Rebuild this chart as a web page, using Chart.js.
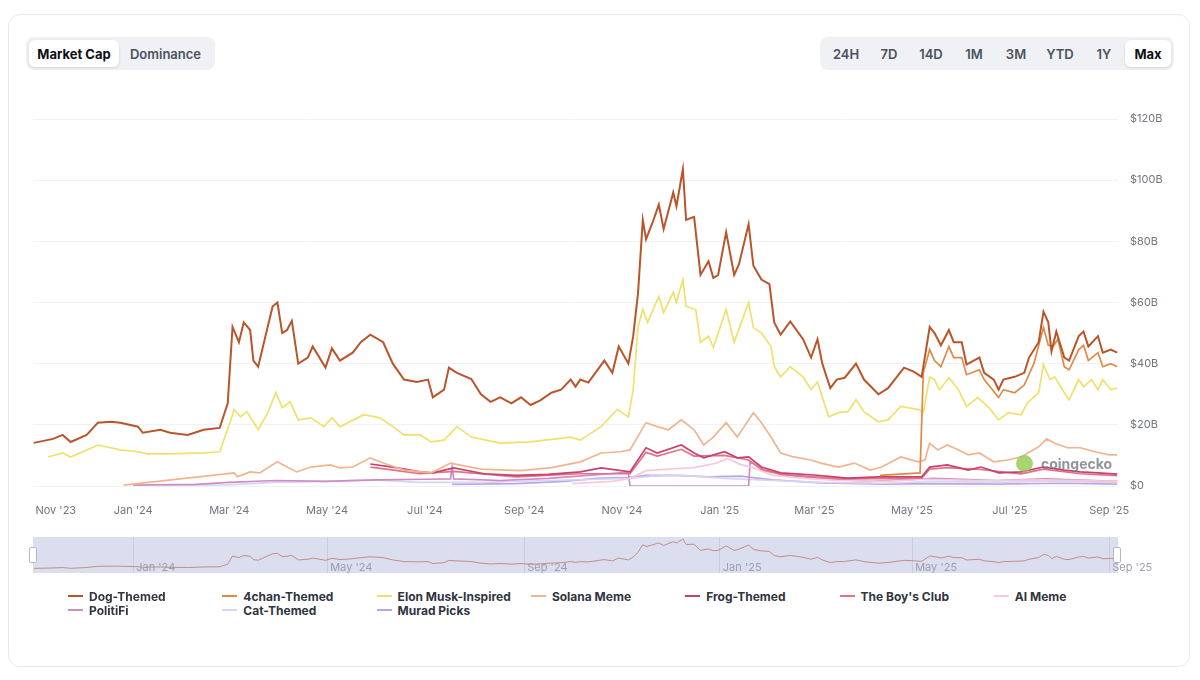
<!DOCTYPE html>
<html>
<head>
<meta charset="utf-8">
<script src="https://cdn.jsdelivr.net/npm/chart.js@4.4.1/dist/chart.umd.min.js"></script>
<style>
  body { margin: 0; background: #fff; font-family: Inter, 'Noto Sans', sans-serif; }
  #page { position: relative; width: 1200px; height: 680px; overflow: hidden; }
  .card { position: absolute; left: 8px; top: 14px; width: 1180px; height: 651px; border: 1px solid #e7e9ee; border-radius: 12px; }
  .seg { position: absolute; top: 37px; height: 33px; background: #eff1f5; border-radius: 8px; display: flex; padding: 3px; box-sizing: border-box; }
  .seg div { display: flex; align-items: center; justify-content: center; font-size: 13px; font-weight: 600; color: #4b5260; border-radius: 6px; }
  .seg div.on { background: #fff; color: #0d0f14; font-weight: 700; box-shadow: 0 1px 3px rgba(0,0,0,.12); }
  #mainWrap { position: absolute; left: 20px; top: 100px; width: 1160px; height: 416px; }
  #navBg { position: absolute; left: 33px; top: 537px; width: 1085px; height: 36px; background: #dadeee; }
  #navWrap { position: absolute; left: 33px; top: 537px; width: 1130px; height: 36px; }
  .handle { position: absolute; top: 547px; width: 6px; height: 14px; background: #fff; border: 1px solid #b5b8c4; border-radius: 2px; }
  #legend { position: absolute; left: 0; top: 0; }
  .li { position: absolute; display: flex; align-items: center; height: 14px; font-size: 12px; font-weight: 700; color: #30353f; white-space: nowrap; }
  .li span.ln { display: inline-block; width: 15px; height: 2px; margin-right: 6px; }
  #mark { position: absolute; left: 1016px; top: 455px; display: flex; align-items: center; opacity: .8; }
  #mark .dot { width: 17px; height: 17px; border-radius: 50%; background: #93cb4f; margin-right: 8px; }
  #mark span { font-size: 14px; font-weight: 700; color: #757a83; }
</style>
</head>
<body>
<div id="page">
  <div class="card"></div>
  <div class="seg" style="left:26px;">
    <div class="on" style="width:90px;">Market Cap</div>
    <div style="width:93px;">Dominance</div>
  </div>
  <div class="seg" style="left:820px;">
    <div style="width:46px;">24H</div>
    <div style="width:40px;">7D</div>
    <div style="width:44px;">14D</div>
    <div style="width:42px;">1M</div>
    <div style="width:42px;">3M</div>
    <div style="width:46px;">YTD</div>
    <div style="width:42px;">1Y</div>
    <div class="on" style="width:46px;">Max</div>
  </div>
  <div id="mainWrap"><canvas id="mainChart"></canvas></div>
  <div id="mark"><div class="dot"></div><span>coingecko</span></div>
  <div id="navBg"></div>
  <div id="navWrap"><canvas id="navChart"></canvas></div>
  <div class="handle" style="left:29px;"></div>
  <div class="handle" style="left:1113px;"></div>
  <div id="legend"></div>
</div>
<script>
// day offsets from 2023-11-01, values in $B
const axisTickDays = [0, 61, 121, 182, 243, 305, 366, 427, 486, 547, 608, 670];
const axisTickLabels = ["Nov '23", "Jan '24", "Mar '24", "May '24", "Jul '24", "Sep '24", "Nov '24", "Jan '25", "Mar '25", "May '25", "Jul '25", "Sep '25"];
const navTickDays = [61, 182, 305, 427, 547, 670];
const navTickLabels = ["Jan '24", "May '24", "Sep '24", "Jan '25", "May '25", "Sep '25"];

const dogThemed = [[-1,14.1],[11,15.4],[17,16.7],[22,14.4],[32,16.7],[39,20.7],[47,21],[53,20.7],[64,19.4],[67,17.4],[78,18.4],[84,17.4],[95,16.7],[105,18.4],[115,19],[120,27],[123,52],[127,47],[130,53.5],[134,51],[136,41],[139,39],[142,45.6],[148,58.7],[151,60],[154,50],[157,51],[160,54],[164,40],[170,42],[173,45.6],[181,38.7],[185,45],[190,41],[198,43.6],[203,47],[209,49.5],[217,47],[223,40],[230,34.8],[238,34],[245,34.8],[248,29],[255,31.5],[258,38.7],[263,37],[272,35],[278,30],[284,27.5],[290,29],[297,27],[303,29],[309,26.5],[315,28],[322,30.5],[328,31.5],[334,34.8],[337,32.5],[340,34.8],[345,33.8],[355,41],[360,37],[364,45.6],[370,40],[373,49],[376,63],[379,87],[381,80.7],[385,86],[389,92],[392,84],[398,96],[400,91.5],[404,103.6],[406,87],[411,88],[415,69],[420,73.5],[423,68],[426,69],[431,83],[436,69],[439,72.5],[445,85.6],[448,72],[453,67.5],[458,66],[461,53.5],[465,49.5],[471,53.8],[479,48],[484,42],[488,48],[491,40],[496,32],[500,34.8],[505,35.4],[512,40],[517,34.8],[526,30],[532,32],[542,38.7],[548,37.4],[553,35.7],[558,52],[561,50],[565,46],[570,51],[573,47],[578,47],[581,39.7],[589,42],[592,37],[598,34.8],[601,31.5],[604,34.8],[611,35.7],[617,37],[620,42],[626,47],[629,57],[632,53.5],[634,44],[637,50.5],[642,42],[645,41],[651,49],[654,50.5],[657,45.6],[663,49],[666,43.6],[671,44.6],[675,43.6]];
const chanThemed = [[527,3.5],[552,4.3],[554,37],[558,44.6],[561,41],[565,39],[570,45.6],[573,42],[578,42],[581,36.4],[589,38],[592,34.8],[601,28.9],[604,31.5],[611,30.5],[617,33],[623,40],[629,51.8],[632,46],[635,45.6],[638,48],[642,39],[645,38],[651,44.6],[654,46],[657,41],[663,43.6],[666,39],[671,40],[675,39]];
const elonMusk = [[8,9.5],[17,10.8],[22,9.5],[39,13.4],[53,11.8],[64,11.2],[70,10.5],[84,10.5],[105,10.8],[115,11.2],[122,21.6],[124,25],[128,22.6],[132,24.3],[139,18.4],[145,24],[150,30.5],[154,25.6],[159,27.5],[164,21.6],[172,22.3],[180,19.4],[185,22.3],[190,19.4],[205,23.3],[215,22.3],[223,19.4],[230,16.7],[240,16.7],[247,14.4],[255,15],[263,19.4],[272,16],[290,14],[309,14.4],[334,16],[340,15],[353,19.4],[363,25],[370,22.6],[373,31.5],[376,52],[379,57.7],[382,53.5],[389,62],[392,56.7],[398,63.3],[400,60],[404,67.5],[406,58.7],[412,57.7],[415,47],[420,49],[423,45.3],[431,57.7],[436,47],[445,60],[448,51.8],[453,50],[459,45.6],[461,39],[465,35.7],[471,39],[479,35.7],[484,31.5],[488,34],[491,29],[495,22.6],[501,24],[507,24.3],[512,28.2],[517,24.3],[526,21],[532,21.6],[540,26],[551,25],[554,24],[558,35.7],[561,34.8],[564,31.5],[570,35.4],[576,31.5],[581,26],[588,28.9],[595,25.6],[601,21.6],[607,24],[615,23.3],[619,27.2],[626,30.5],[629,39.7],[633,34.8],[636,35.7],[642,30.5],[645,28.2],[651,34.8],[654,32.5],[659,34.8],[663,31.5],[666,34.8],[671,31.5],[675,32]];
const solanaMeme = [[55,0.3],[124,4.3],[126,3],[134,4.6],[140,4.3],[151,7.9],[157,6.2],[163,4.6],[172,6.2],[184,6.9],[190,5.9],[198,6.2],[209,9.2],[217,7.5],[230,5.2],[247,4.3],[259,7.5],[278,5.5],[303,5],[322,6],[340,7.9],[353,10.8],[365,11.2],[371,11.8],[381,20.7],[388,19.4],[395,18.4],[403,21.6],[411,18.4],[417,13.4],[423,16],[431,20.7],[438,16],[448,24],[453,20.7],[459,16],[465,10.8],[473,9.5],[484,8.5],[490,7.5],[501,6.2],[511,7.5],[521,5.2],[528,6.2],[540,9.5],[551,7.9],[555,8.5],[558,14],[563,11.8],[569,13.4],[576,11.8],[582,10.2],[589,10.8],[598,7.9],[607,8.5],[615,9.5],[626,12.8],[631,15.4],[636,14],[644,12.5],[652,12.5],[661,11.2],[670,10.2],[675,10.2]];
const frogThemed = [[209,7.2],[226,5.9],[240,4.6],[248,4.3],[261,5.9],[280,4],[300,3.5],[320,3.8],[340,4.6],[353,5.9],[371,4.6],[381,12.5],[388,10.8],[403,13.4],[411,10.8],[417,9.2],[430,11.2],[438,9.2],[445,9.5],[453,6.2],[465,4.3],[486,3.6],[507,2.6],[526,3],[553,3],[558,6.2],[569,6.9],[582,5.2],[590,6.2],[601,4.3],[615,4.6],[629,6.2],[642,5.2],[652,4.6],[663,4.3],[675,3.9]];
const boysClub = [[209,6.2],[226,5],[240,4],[261,4.8],[300,3],[340,4],[371,4],[381,11],[388,9.8],[403,12],[411,9.8],[430,10],[445,8.5],[453,5.5],[465,3.8],[486,3],[507,2.3],[553,2.6],[558,5.5],[569,6],[590,5.4],[615,4],[629,5.5],[652,4],[675,3.4]];
const aiMeme = [[335,0.8],[360,1.5],[371,2.5],[381,5],[395,5.5],[411,6],[425,7.5],[432,9],[440,7],[448,6],[460,3.5],[480,2.5],[500,1.8],[530,1.5],[555,2.2],[590,1.8],[630,2],[675,1.5]];
const politiFi = [[61,0.3],[100,0.5],[121,1.2],[150,1.8],[182,1.5],[213,2],[243,2.2],[259,2.3],[260,6.2],[261,2.3],[290,1.8],[320,2.5],[345,3.5],[370,4.5],[371,0],[445,0],[446,8],[455,5],[470,3.5],[490,2.5],[520,1.5],[560,2.5],[600,1.8],[630,2.3],[675,1.5]];
const catThemed = [[80,0.2],[120,0.4],[150,1.2],[180,1.5],[210,2],[240,1.2],[280,1.2],[320,1.8],[350,2.2],[371,2.5],[385,3.2],[405,3.5],[430,2.5],[460,1.8],[490,1.2],[530,0.9],[560,1.5],[600,1.2],[630,1.6],[675,1.2]];
const muradPicks = [[260,0.5],[300,0.8],[330,1.5],[350,2.5],[371,2.8],[381,3.5],[400,3.5],[420,3],[440,3.2],[460,2],[490,1],[530,0.6],[560,0.8],[600,0.6],[640,0.9],[675,0.6]];

const seriesNames = ['Dog-Themed', '4chan-Themed', 'Elon Musk-Inspired', 'Solana Meme', 'Frog-Themed', "The Boy's Club", 'AI Meme', 'PolitiFi', 'Cat-Themed', 'Murad Picks'];
const seriesData = [dogThemed, chanThemed, elonMusk, solanaMeme, frogThemed, boysClub, aiMeme, politiFi, catThemed, muradPicks];
const seriesColors = ['#b9552a', '#e08a45', '#f1e06c', '#f2b48f', '#c8416a', '#e0728a', '#f6cbd7', '#cf8cc4', '#d8d4f3', '#b6a8e8'];

Chart.defaults.font.family = 'Inter, "Noto Sans", sans-serif';

const toPts = arr => arr.map(([d, v]) => ({ x: d, y: v }));

new Chart(document.getElementById('mainChart'), {
  type: 'line',
  data: {
    datasets: seriesNames.map((name, i) => ({
      label: name,
      data: toPts(seriesData[i]),
      borderColor: seriesColors[i],
      borderWidth: i === 0 ? 2 : 1.7,
      pointRadius: 0,
      tension: 0,
      fill: false,
    })),
  },
  options: {
    responsive: true,
    maintainAspectRatio: false,
    animation: false,
    layout: { padding: { left: 13, top: 19, right: 0, bottom: 0 } },
    plugins: { legend: { display: false }, tooltip: { enabled: false } },
    scales: {
      x: {
        type: 'linear', min: -1.5, max: 675.5,
        grid: { display: false }, border: { display: false },
        afterBuildTicks: (s) => { s.ticks = axisTickDays.concat([675.5]).map((v) => ({ value: v })); },
        ticks: { autoSkip: false, maxRotation: 0, align: 'inner', padding: 10, color: '#70757f', font: { size: 11 },
          callback: (v, i) => axisTickLabels[i] || '' },
        afterFit: (s) => { s.height = 30; },
      },
      y: {
        position: 'right', min: 0, max: 120,
        grid: { color: '#f1f2f5', drawTicks: false }, border: { display: false },
        ticks: { stepSize: 20, padding: 12, color: '#70757f', font: { size: 11 },
          callback: (v) => (v === 0 ? '$0' : '$' + v + 'B') },
        afterFit: (s) => { s.width = 62; },
      },
    },
  },
});

new Chart(document.getElementById('navChart'), {
  type: 'line',
  data: { datasets: [{ data: toPts(dogThemed), borderColor: '#c38e84', borderWidth: 1, pointRadius: 0, tension: 0 }] },
  options: {
    responsive: true,
    maintainAspectRatio: false,
    animation: false,
    layout: { padding: { left: 0, top: 0, right: 45, bottom: 0 } },
    plugins: { legend: { display: false }, tooltip: { enabled: false } },
    scales: {
      x: {
        type: 'linear', min: -1.5, max: 675.5,
        grid: { color: '#c8ccdc', drawTicks: false }, border: { display: false },
        afterBuildTicks: (s) => { s.ticks = navTickDays.map((v) => ({ value: v })); },
        ticks: { autoSkip: false, maxRotation: 0, mirror: true, align: 'start', padding: -1, color: '#9a9fae', font: { size: 11 },
          callback: (v, i) => ' ' + navTickLabels[i] },
        afterFit: (s) => { s.height = 0; },
      },
      y: { display: false, min: 0, max: 110 },
    },
  },
});

const legend = document.getElementById('legend');
seriesNames.forEach((name, i) => {
  const el = document.createElement('div');
  el.className = 'li';
  el.style.left = (68 + (i % 7) * 154.3) + 'px';
  el.style.top = (i < 7 ? 589 : 603) + 'px';
  el.innerHTML = `<span class="ln" style="background:${seriesColors[i]}"></span>${name}`;
  legend.appendChild(el);
});
</script>
</body>
</html>
